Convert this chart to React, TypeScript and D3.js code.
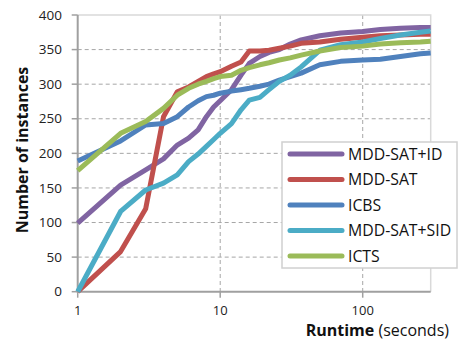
import React, { useEffect, useRef } from 'react';
import * as d3 from 'd3';

// runtime (seconds) at which the cumulative counts were read
const runtimes = [1, 2, 3, 4, 5, 6, 7, 8, 9, 10, 12, 14, 16, 19, 22, 26, 31, 37, 50, 70, 100, 133, 184, 254, 300];

const mddSatId = [99, 154, 176, 192, 212, 222, 234, 253, 267, 276, 292, 313, 330, 340, 346, 350, 358, 364, 370, 374, 376, 379, 381, 382, 382];
const mddSat = [0, 58, 120, 253, 289, 296, 304, 311, 315, 318, 326, 332, 348, 348, 349, 352, 355, 359, 361, 365, 368, 370, 371, 372, 372];
const icbs = [189, 218, 241, 243, 253, 267, 276, 282, 284, 287, 290, 292, 294, 297, 300, 306, 311, 316, 328, 333, 335, 336, 340, 344, 345];
const mddSatSid = [0, 116, 147, 157, 169, 188, 199, 210, 220, 229, 243, 263, 277, 281, 292, 304, 313, 325, 349, 357, 361, 366, 371, 375, 377];
const icts = [175, 229, 246, 265, 284, 294, 300, 304, 308, 311, 313, 320, 324, 328, 331, 335, 338, 342, 348, 353, 355, 358, 360, 361, 362];

const seriesNames = ['MDD-SAT+ID', 'MDD-SAT', 'ICBS', 'MDD-SAT+SID', 'ICTS'];
const seriesValues = [mddSatId, mddSat, icbs, mddSatSid, icts];
const seriesColors = ['#8064A2', '#C0504D', '#4F81BD', '#4BACC6', '#9BBB59'];

const yTicks = [0, 50, 100, 150, 200, 250, 300, 350, 400];
const xTicks = [1, 10, 100];

const FONT = '"Open Sans", "DejaVu Sans", sans-serif';

export default function App() {
  const svgRef = useRef<SVGSVGElement>(null);

  useEffect(() => {
    if (!svgRef.current) return;
    const svg = d3.select(svgRef.current);
    svg.selectAll('*').remove();

    const left = 77.7, right = 430.7, top = 15, bottom = 291.7;

    const x = d3.scaleLog().domain([1, 300]).range([left, right]);
    const y = d3.scaleLinear().domain([0, 400]).range([bottom, top]);

    // gridlines
    svg.append('g')
      .selectAll('line')
      .data(yTicks.filter(t => t > 0 && t < 400))
      .enter()
      .append('line')
      .attr('x1', left).attr('x2', right)
      .attr('y1', d => y(d)).attr('y2', d => y(d))
      .attr('stroke', '#a6a6a6')
      .attr('stroke-width', 1)
      .attr('stroke-dasharray', '4,3');

    svg.append('g')
      .selectAll('line')
      .data([10, 100])
      .enter()
      .append('line')
      .attr('x1', d => x(d)).attr('x2', d => x(d))
      .attr('y1', top).attr('y2', bottom)
      .attr('stroke', '#a6a6a6')
      .attr('stroke-width', 1)
      .attr('stroke-dasharray', '4,3');

    // plot border top/right
    svg.append('path')
      .attr('d', `M${left},${top}H${right}V${bottom}`)
      .attr('fill', 'none')
      .attr('stroke', '#d9d9d9')
      .attr('stroke-width', 1.5);

    // axes
    svg.append('path')
      .attr('d', `M${left},${top}V${bottom}H${right}`)
      .attr('fill', 'none')
      .attr('stroke', '#a0a0a0')
      .attr('stroke-width', 2);

    svg.append('g')
      .selectAll('line')
      .data(yTicks)
      .enter()
      .append('line')
      .attr('x1', left - 6).attr('x2', left)
      .attr('y1', d => y(d)).attr('y2', d => y(d))
      .attr('stroke', '#a0a0a0')
      .attr('stroke-width', 1.5);

    svg.append('g')
      .selectAll('line')
      .data(xTicks)
      .enter()
      .append('line')
      .attr('x1', d => x(d)).attr('x2', d => x(d))
      .attr('y1', bottom).attr('y2', bottom + 6)
      .attr('stroke', '#a0a0a0')
      .attr('stroke-width', 1.5);

    svg.append('g')
      .selectAll('text')
      .data(yTicks)
      .enter()
      .append('text')
      .attr('x', 62)
      .attr('y', d => y(d))
      .attr('dy', '0.35em')
      .attr('text-anchor', 'end')
      .attr('font-family', FONT)
      .attr('font-size', 13.5)
      .attr('fill', '#222')
      .text(d => d);

    svg.append('g')
      .selectAll('text')
      .data(xTicks)
      .enter()
      .append('text')
      .attr('x', d => x(d))
      .attr('y', 314.5)
      .attr('text-anchor', 'middle')
      .attr('font-family', FONT)
      .attr('font-size', 13)
      .attr('fill', '#222')
      .text(d => d);

    // series lines
    const line = d3.line<number>()
      .x((_, i) => x(runtimes[i]))
      .y(d => y(d))
      .curve(d3.curveLinear);

    seriesValues.forEach((vals, i) => {
      svg.append('path')
        .attr('d', line(vals))
        .attr('fill', 'none')
        .attr('stroke', seriesColors[i])
        .attr('stroke-width', 5)
        .attr('stroke-linejoin', 'round');
    });

    // axis titles
    svg.append('text')
      .attr('transform', 'translate(28,150) rotate(-90)')
      .attr('text-anchor', 'middle')
      .attr('font-family', FONT)
      .attr('font-size', 16)
      .attr('font-weight', 'bold')
      .attr('fill', '#111')
      .text('Number of instances');

    const xt = svg.append('text')
      .attr('x', 449)
      .attr('y', 336)
      .attr('text-anchor', 'end')
      .attr('font-family', FONT)
      .attr('font-size', 16)
      .attr('fill', '#111');
    xt.append('tspan').attr('font-weight', 'bold').text('Runtime');
    xt.append('tspan').text(' (seconds)');

    // legend
    const lg = svg.append('g');
    lg.append('rect')
      .attr('x', 282).attr('y', 142)
      .attr('width', 175).attr('height', 126)
      .attr('fill', '#fff')
      .attr('stroke', '#d0d0d0')
      .attr('stroke-width', 1.5);

    const rows = lg.selectAll('g.row')
      .data(seriesNames)
      .enter()
      .append('g')
      .attr('class', 'row')
      .attr('transform', (_, i) => `translate(0,${154 + i * 25.5})`);

    rows.append('line')
      .attr('x1', 290).attr('x2', 342)
      .attr('stroke', (_, i) => seriesColors[i])
      .attr('stroke-width', 5)
      .attr('stroke-linecap', 'round');

    rows.append('text')
      .attr('x', 348)
      .attr('dy', '0.35em')
      .attr('font-family', FONT)
      .attr('font-size', 15.8)
      .attr('fill', '#111')
      .text(d => d);
  }, []);

  return (
    <div style={{ position: 'absolute', left: 0, top: 0 }}>
      <svg ref={svgRef} width={458} height={341} style={{ display: 'block', background: '#fff' }} />
    </div>
  );
}
